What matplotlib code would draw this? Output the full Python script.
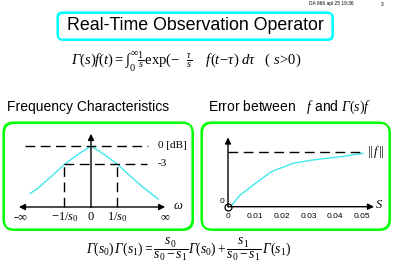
import matplotlib
matplotlib.use('Agg')
import matplotlib.pyplot as plt
from matplotlib.patches import FancyBboxPatch

# ---------------- data ----------------
omega = [-2.3, -2.0, -1.5, -1.0, -0.5, 0.0, 0.5, 1.0, 1.5, 2.0, 2.3, 2.53]
gain = [0.22, 0.31, 0.50, 0.70, 0.86, 1.0, 0.86, 0.70, 0.50, 0.31, 0.21, 0.13]
freq_tick_pos = [-1.0, 0.0, 1.0]
freq_tick_labels = [r"$-1/s_0$", "0", r"$1/s_0$"]

s_vals = [0.0, 0.0014, 0.0045, 0.012, 0.0163, 0.0243, 0.0317, 0.042, 0.0504]
err_vals = [0.0, 0.03, 0.21, 0.49, 0.64, 0.79, 0.85, 0.91, 0.97]
s_ticks = [0.0, 0.01, 0.02, 0.03, 0.04, 0.05]
s_tick_labels = ["0", "0.01", "0.02", "0.03", "0.04", "0.05"]

title = "Real-Time Observation Operator"
heading_left = "Frequency Characteristics"
heading_right = r"Error between   $f$ and $\mathcal{\Gamma}(s)f$"

# ---------------- style ----------------
W, H = 393, 272
plt.rcParams['font.family'] = ['Liberation Sans', 'DejaVu Sans']
plt.rcParams['mathtext.fontset'] = 'custom'
plt.rcParams['mathtext.rm'] = 'Liberation Serif'
plt.rcParams['mathtext.it'] = 'Liberation Serif:italic'
plt.rcParams['mathtext.bf'] = 'Liberation Serif:bold'
plt.rcParams['mathtext.cal'] = 'Liberation Serif:italic'

GREEN = '#00FF00'
CYAN = '#00FFFF'
CURVE = '#40E8F0'
DASH = (0, (7, 4))

fig = plt.figure(figsize=(W / 100, H / 100), dpi=100)
bg = fig.add_axes([0, 0, 1, 1])
bg.set_xlim(0, W)
bg.set_ylim(H, 0)
bg.axis('off')


def px_axes(x0, x1, y0, y1, xlim, ylim):
    ax = fig.add_axes([x0 / W, 1 - y1 / H, (x1 - x0) / W, (y1 - y0) / H])
    ax.set_xlim(*xlim)
    ax.set_ylim(*ylim)
    ax.axis('off')
    return ax


def shadow_box(x, y, w, h, r, color, lw_main=0.8, lw_sh=1.4):
    bg.add_patch(FancyBboxPatch((x + 1.0, y + 1.0), w, h,
                                boxstyle=f"round,pad=0,rounding_size={r}",
                                fc='none', ec=color, lw=lw_sh))
    bg.add_patch(FancyBboxPatch((x, y), w, h,
                                boxstyle=f"round,pad=0,rounding_size={r}",
                                fc='none', ec=color, lw=lw_main))


def arrow(ax, tail, tip):
    ax.annotate('', xy=tip, xytext=tail,
                arrowprops=dict(arrowstyle='-|>', color='black', lw=1.0,
                                mutation_scale=9, shrinkA=0, shrinkB=0))


# header
bg.text(331, 4, "DA 966 apl 25 19:36", fontsize=3.5, ha='center', va='center')
bg.text(382, 4, "3", fontsize=3.5, ha='center', va='center')

# title
shadow_box(57, 12, 275, 27, 5, CYAN)
bg.text(195, 26, title, fontsize=12.8, ha='center', va='center')

# top formula
bg.text(186, 62,
        r"$\mathcal{\Gamma}(s)f(t)=\int_0^{\infty}\frac{1}{s}\mathrm{exp}(-\ \ \frac{\tau}{s}\quad\ f(t\!-\!\tau)\ d\tau\ \ \ (\ s\!>\!0)$",
        fontsize=10.5, ha='center', va='center')

# headings
bg.text(7, 107, heading_left, fontsize=10, ha='left', va='center')
bg.text(208, 107, heading_right, fontsize=10, ha='left', va='center')

# boxes
shadow_box(3, 122, 189, 107, 10, GREEN)
shadow_box(201, 122, 188, 107, 10, GREEN)

# ---------------- left chart ----------------
ox, oy, sx, sy = 91, 207, 26.5, 61
xl = (-3.2, 3.6)
yl = (-0.3, 1.3)
axL = px_axes(ox + xl[0] * sx, ox + xl[1] * sx, oy - yl[1] * sy, oy - yl[0] * sy, xl, yl)
axL.plot(omega, gain, color=CURVE, lw=1.0)
arrow(axL, (0, 0), (-2.72, 0))
arrow(axL, (0, 0), (2.8, 0))
arrow(axL, (0, 0), (0, 1.2))
axL.plot([-2.5, 2.15], [1, 1], color='black', lw=1.0, ls=DASH)
axL.plot([-1.0, 2.1], [0.705, 0.705], color='black', lw=1.0, ls=DASH)
for p in (-1.0, 1.0):
    axL.plot([p, p], [0, 0.705], color='black', lw=1.0, ls=DASH)
axL.text(2.53, 1.0, "0 [dB]", fontsize=8, ha='left', va='center', family='Liberation Serif')
axL.text(2.5, 0.705, "-3", fontsize=8, ha='left', va='center', family='Liberation Serif')
for p, lab in zip(freq_tick_pos, freq_tick_labels):
    axL.text(p, -0.17, lab, fontsize=9, ha='center', va='center', family='Liberation Serif')
axL.text(-2.65, -0.17, r"-$\infty$", fontsize=9, ha='center', va='center', family='Liberation Serif')
axL.text(2.8, -0.17, r"$\infty$", fontsize=9, ha='center', va='center', family='Liberation Serif')
axL.text(3.3, 0.02, r"$\omega$", fontsize=9, ha='center', va='center')

# ---------------- right chart ----------------
ox2, oy2, sx2, sy2 = 228, 206.7, 2680, 55
xl2 = (-0.006, 0.0575)
yl2 = (-0.3, 1.4)
axR = px_axes(ox2 + xl2[0] * sx2, ox2 + xl2[1] * sx2, oy2 - yl2[1] * sy2, oy2 - yl2[0] * sy2, xl2, yl2)
axR.plot(s_vals, err_vals, color=CURVE, lw=1.0)
arrow(axR, (0, 0), (0.0545, 0))
arrow(axR, (0, 0), (0, 1.26))
axR.plot([0, 0.0505], [1, 1], color='black', lw=1.0, ls=DASH)
axR.plot([0], [0], marker='o', ms=5, mfc='white', mec='black', mew=0.9)
axR.text(0.0518, 1.0, r"$||\,f\,||$", fontsize=9, ha='left', va='center')
axR.text(-0.0023, 0.1, "0", fontsize=6, ha='center', va='center')
for p, lab in zip(s_ticks, s_tick_labels):
    axR.text(p, -0.17, lab, fontsize=6, ha='center', va='center')
axR.text(0.0565, 0.03, r"$S$", fontsize=9, ha='center', va='center')

# bottom formula
bg.text(189, 250,
        r"$\mathcal{\Gamma}(s_0)\,\mathcal{\Gamma}(s_1)=\dfrac{s_0}{s_0-s_1}\mathcal{\Gamma}(s_0)+\dfrac{s_1}{s_0-s_1}\,\mathcal{\Gamma}(s_1)$",
        fontsize=9.8, ha='center', va='center')

fig.savefig('out.png', dpi=100)
